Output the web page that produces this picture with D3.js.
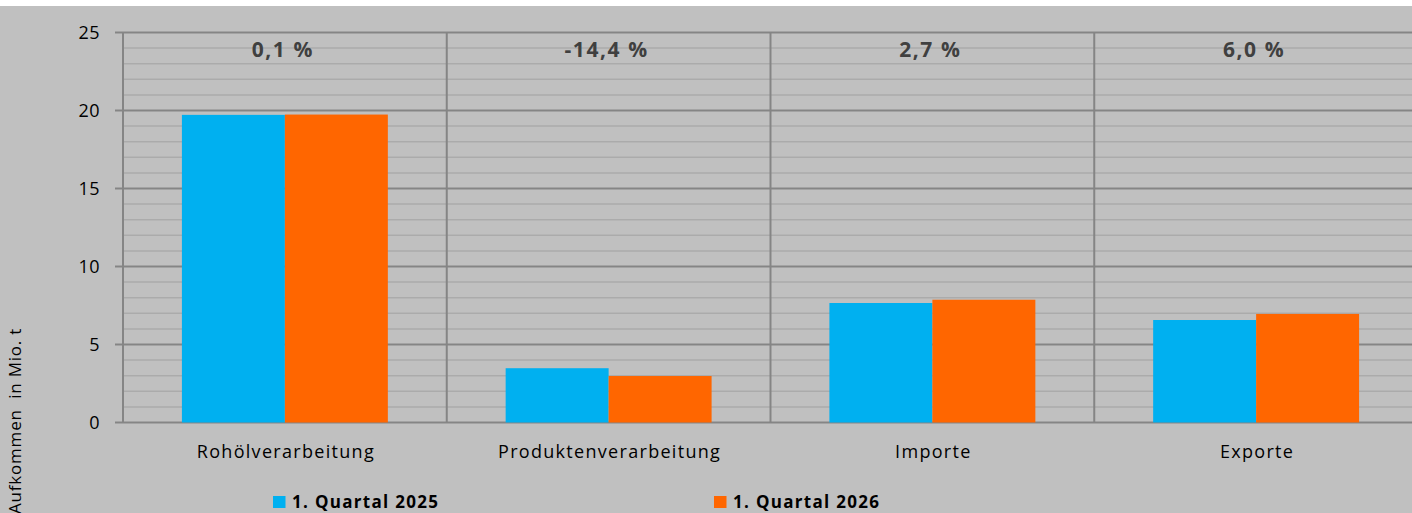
<!DOCTYPE html>
<html>
<head>
<meta charset="utf-8">
<script src="https://cdn.jsdelivr.net/npm/d3@7"></script>
<style>
  html, body { margin: 0; padding: 0; background: #ffffff; }
  svg { display: block; }
  text { font-family: "Open Sans", "Noto Sans", sans-serif; }
</style>
</head>
<body>
<svg id="chart" width="1412" height="513"></svg>
<script>
// Raffinerieaufkommen, 1. Quartal im Vorjahresvergleich (Mio. t)
const categories = ["Rohölverarbeitung", "Produktenverarbeitung", "Importe", "Exporte"];
const seriesNames = ["1. Quartal 2025", "1. Quartal 2026"];
const values2025 = [19.72, 3.48, 7.66, 6.57];
const values2026 = [19.74, 2.98, 7.87, 6.96];
const changeLabels = ["0,1 %", "-14,4 %", "2,7 %", "6,0 %"];
const yTicks = [0, 5, 10, 15, 20, 25];
const yTitle = "Aufkommen  in Mio. t";

const colors = ["#00b0f0", "#ff6600"];
const W = 1412, H = 513;
const margin = { top: 32.5, left: 123, bottom: 422.5 };
const plotRight = 1418;

const svg = d3.select("#chart");

// Hintergrund
svg.append("rect").attr("x", 0).attr("y", 6).attr("width", W).attr("height", H - 6).attr("fill", "#c0c0c0");

const x0 = d3.scaleBand().domain(categories).range([margin.left, plotRight]).paddingInner(0).paddingOuter(0);
const x1 = d3.scaleBand().domain(seriesNames).range([0, x0.bandwidth()]).paddingOuter(0.572).paddingInner(0);
const y = d3.scaleLinear().domain([0, 25]).range([margin.bottom, margin.top]);

// Hilfslinien je Einheit
const minor = d3.range(0, 26).filter(v => v % 5 !== 0);
svg.append("g").selectAll("line").data(minor).join("line")
  .attr("x1", margin.left).attr("x2", plotRight)
  .attr("y1", d => y(d)).attr("y2", d => y(d))
  .attr("stroke", "#ababab").attr("stroke-width", 1.5);

// Hauptgitternetz mit Teilstrichen
svg.append("g").selectAll("line").data(yTicks).join("line")
  .attr("x1", margin.left - 8).attr("x2", plotRight)
  .attr("y1", d => y(d)).attr("y2", d => y(d))
  .attr("stroke", "#858585").attr("stroke-width", 2);

// Kategorietrenner
const bounds = categories.map(c => x0(c)).concat([plotRight]);
svg.append("g").selectAll("line").data(bounds).join("line")
  .attr("x1", d => d).attr("x2", d => d)
  .attr("y1", margin.top).attr("y2", margin.bottom)
  .attr("stroke", "#858585").attr("stroke-width", 2);

// Balken
const rows = categories.map((c, i) => ({ cat: c, vals: [values2025[i], values2026[i]] }));
const groups = svg.append("g").selectAll("g").data(rows).join("g")
  .attr("transform", d => `translate(${x0(d.cat)},0)`);
groups.selectAll("rect").data(d => d.vals.map((v, j) => ({ s: seriesNames[j], v, j }))).join("rect")
  .attr("x", d => x1(d.s))
  .attr("width", x1.bandwidth())
  .attr("y", d => y(d.v))
  .attr("height", d => y(0) - y(d.v))
  .attr("fill", d => colors[d.j]);

// Veränderungsraten
svg.append("g").selectAll("text").data(categories).join("text")
  .attr("x", c => x0(c) + x0.bandwidth() / 2 - 2)
  .attr("y", 57)
  .attr("text-anchor", "middle")
  .attr("font-size", 21).attr("font-weight", "bold").attr("letter-spacing", "1.6px")
  .attr("fill", "#404040")
  .text((c, i) => changeLabels[i]);

// Y-Achse Beschriftungen
svg.append("g").selectAll("text").data(yTicks).join("text")
  .attr("x", 100).attr("y", d => y(d) + 6.5)
  .attr("text-anchor", "end")
  .attr("font-size", 18).attr("letter-spacing", "0.5px").attr("fill", "#000")
  .text(d => d);

// Kategorienamen
svg.append("g").selectAll("text").data(categories).join("text")
  .attr("x", c => x0(c) + x0.bandwidth() / 2 + 1)
  .attr("y", 458)
  .attr("text-anchor", "middle")
  .attr("font-size", 18).attr("letter-spacing", "1.3px").attr("fill", "#000")
  .text(c => c);

// Achsentitel
svg.append("text")
  .attr("transform", "translate(21,514) rotate(-90)")
  .attr("font-size", 17).attr("letter-spacing", "0.8px").attr("fill", "#000")
  .style("white-space", "pre")
  .text(yTitle);

// Legende
const legendX = [273, 714];
const leg = svg.append("g").selectAll("g").data(seriesNames).join("g")
  .attr("transform", (d, i) => `translate(${legendX[i]},0)`);
leg.append("rect").attr("x", 0).attr("y", 496).attr("width", 12.5).attr("height", 12).attr("fill", (d, i) => colors[i]);
leg.append("text").attr("x", 19).attr("y", 508)
  .attr("font-size", 17).attr("font-weight", "bold").attr("letter-spacing", "1.3px").attr("fill", "#000")
  .text(d => d);
</script>
</body>
</html>
